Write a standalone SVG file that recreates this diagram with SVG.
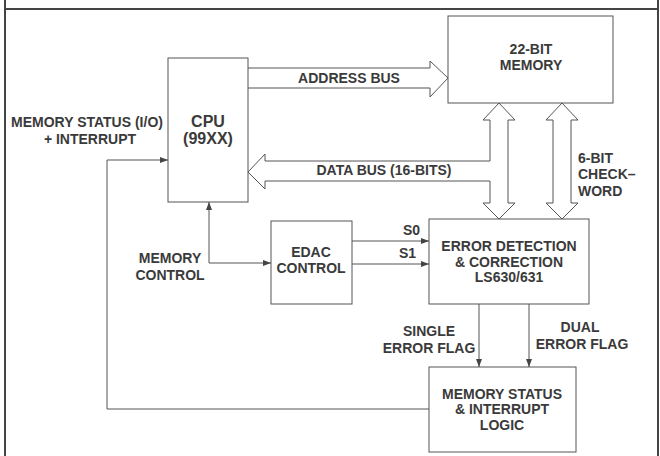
<svg xmlns="http://www.w3.org/2000/svg" width="660" height="456" viewBox="0 0 660 456">
<style>
.box{fill:#fff;stroke:#555;stroke-width:1}
.bus{fill:#fff;stroke:#555;stroke-width:1;stroke-linejoin:miter}
.ln{fill:none;stroke:#555;stroke-width:1}
.fr{fill:none;stroke:#444;stroke-width:2}
text{font-family:"Liberation Sans",Arial,sans-serif;font-weight:bold;font-size:14px;fill:#3a3a3a}
.m{text-anchor:middle}
.big{font-size:16px}
</style>
<defs>
<marker id="ah" viewBox="0 0 8 6" refX="8" refY="3" markerWidth="8" markerHeight="6" orient="auto" markerUnits="userSpaceOnUse">
<path d="M0,0 L8,3 L0,6 z" fill="#444"/>
</marker>
</defs>
<rect width="660" height="456" fill="#fff"/>
<g id="frame">
<path class="fr" d="M5,0 V456 M4,9 H658 M658,0 V456"/>
</g>
<g id="connectors">
<path id="address-bus" class="bus" d="M248,68 H430 V61 L448,78 L430,97 V88 H248"/>
<path id="data-bus" class="bus" d="M248,172 L265,154 V161 H490 V120 H483 L499,103 L515,120 H508 V203 H515 L499,219 L483,203 H490 V181 H265 V189 Z"/>
<path id="checkword-bus" class="bus" d="M553,120 H546 L562,103 L578,120 H571 V203 H578 L562,219 L546,203 H553 Z"/>
<path class="ln" d="M209,263 V202" marker-end="url(#ah)"/>
<path class="ln" d="M209,263 H271" marker-end="url(#ah)"/>
<path class="ln" d="M352,241 H429" marker-end="url(#ah)"/>
<path class="ln" d="M352,264 H429" marker-end="url(#ah)"/>
<path class="ln" d="M479,304 V367" marker-end="url(#ah)"/>
<path class="ln" d="M529,304 V367" marker-end="url(#ah)"/>
<path class="ln" d="M429,409 H107 V160 H168" marker-end="url(#ah)"/>
<text class="m" x="349" y="83">ADDRESS BUS</text>
<text class="m" x="384" y="175">DATA BUS (16-BITS)</text>
<text x="578" y="163">6-BIT</text>
<text x="578" y="179">CHECK–</text>
<text x="578" y="196">WORD</text>
<text x="403" y="235">S0</text>
<text x="399" y="258">S1</text>
<text class="m" x="170" y="263">MEMORY</text>
<text class="m" x="170" y="280">CONTROL</text>
<text class="m" x="429" y="336">SINGLE</text>
<text class="m" x="429" y="353">ERROR FLAG</text>
<text class="m" x="580" y="332">DUAL</text>
<text class="m" x="582" y="349">ERROR FLAG</text>
<text class="m" x="87" y="127">MEMORY STATUS (I/O)</text>
<text class="m" x="90" y="144">+ INTERRUPT</text>
</g>
<g id="cpu">
<rect class="box" x="168" y="58" width="80" height="144"/>
<text class="m big" x="208" y="127">CPU</text>
<text class="m big" x="208" y="144">(99XX)</text>
</g>
<g id="memory">
<rect class="box" x="448" y="16" width="165" height="87"/>
<text class="m" x="531" y="54">22-BIT</text>
<text class="m" x="531" y="70">MEMORY</text>
</g>
<g id="edac">
<rect class="box" x="271" y="221" width="81" height="83"/>
<text class="m" x="311" y="257">EDAC</text>
<text class="m" x="311" y="273">CONTROL</text>
</g>
<g id="edc">
<rect class="box" x="429" y="219" width="160" height="85"/>
<text class="m" x="509" y="251">ERROR DETECTION</text>
<text class="m" x="509" y="267">&amp; CORRECTION</text>
<text class="m" x="509" y="282">LS630/631</text>
</g>
<g id="msil">
<rect class="box" x="429" y="367" width="147" height="85"/>
<text class="m" x="502" y="399">MEMORY STATUS</text>
<text class="m" x="502" y="414">&amp; INTERRUPT</text>
<text class="m" x="502" y="430">LOGIC</text>
</g>
</svg>
